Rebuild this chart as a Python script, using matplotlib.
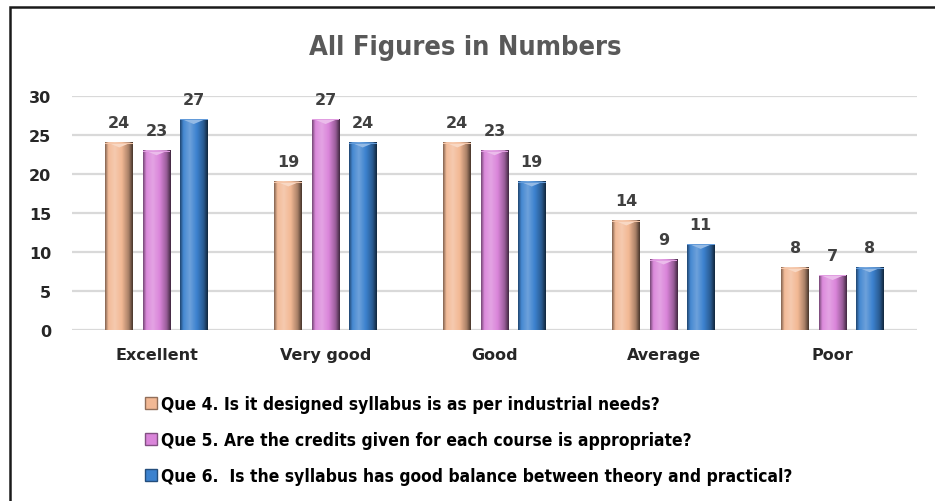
import numpy as np
import matplotlib.pyplot as plt
from matplotlib import colors
from matplotlib.patches import Rectangle, Polygon
from matplotlib.lines import Line2D

categories = ['Excellent', 'Very good', 'Good', 'Average', 'Poor']
que4 = [24, 19, 24, 14, 8]
que5 = [23, 27, 23, 9, 7]
que6 = [27, 24, 19, 11, 8]
series_labels = ['Que 4. Is it designed syllabus is as per industrial needs?',
                 'Que 5. Are the credits given for each course is appropriate?',
                 'Que 6.  Is the syllabus has good balance between theory and practical?']
series_colors = ['#F2B894', '#DA85DA', '#3C82CF']
yticks = [0, 5, 10, 15, 20, 25, 30]

plt.rcParams['font.family'] = ['DejaVu Sans']

fig = plt.figure(figsize=(9.35, 5.02), dpi=100)
ax = fig.add_axes([72 / 935, 1 - 331 / 502, (917 - 72) / 935, (331 - 97) / 502])

# outer frame (top and left edges visible, rest cropped)
fig.patches.append(Rectangle((10 / 935, -0.1), 1.2, 1 - 8 / 502 + 0.1,
                             transform=fig.transFigure, fill=False,
                             edgecolor='#1a1a1a', linewidth=1.8))


def shade(c, f):
    r, g, b = colors.to_rgb(c)
    if f < 1:
        return (r * f, g * f, b * f)
    f = f - 1
    return (r + (1 - r) * f, g + (1 - g) * f, b + (1 - b) * f)


def draw_bar(ax, x0, w, h, c):
    # horizontal gradient: dark edge, light left-centre, darker right edge
    stops = np.array([0.0, 0.12, 0.35, 0.6, 0.85, 1.0])
    facs = [0.55, 1.05, 1.25, 1.0, 0.7, 0.3]
    xs = np.linspace(0, 1, 64)
    rgb = np.array([shade(c, f) for f in facs])
    grad = np.stack([np.interp(xs, stops, rgb[:, k]) for k in range(3)], axis=-1)
    img = np.clip(grad[None, :, :], 0, 1)
    ax.imshow(img, extent=(x0, x0 + w, 0, h), aspect='auto', zorder=3,
              interpolation='bilinear')
    # top bevel
    bev = 0.6
    tri = Polygon([(x0 + w * 0.1, h), (x0 + w * 0.9, h), (x0 + w * 0.5, h - bev)],
                  closed=True, facecolor=shade(c, 1.45), edgecolor='none', zorder=4)
    ax.add_patch(tri)
    ax.add_patch(Rectangle((x0, h - 0.12), w, 0.12, facecolor=shade(c, 1.2),
                           edgecolor='none', zorder=4))


x = np.arange(len(categories))
step = 0.22
width = 0.165
for i, (vals, c) in enumerate(zip([que4, que5, que6], series_colors)):
    for xi, v in zip(x, vals):
        cx = xi + (i - 1) * step
        draw_bar(ax, cx - width / 2, width, v, c)
        ax.annotate(str(v), (cx, v), xytext=(0, 9), textcoords='offset points',
                    ha='center', va='bottom', fontsize=11.5, fontweight='bold',
                    color='#404040')

ax.set_xlim(-0.5, len(categories) - 0.5)
ax.set_ylim(0, 30)
ax.set_yticks(yticks)
ax.set_xticks(x)
ax.set_xticklabels(categories, fontsize=11.5, fontweight='bold', color='#262626')
for lbl in ax.get_yticklabels():
    lbl.set_fontsize(11.5)
    lbl.set_fontweight('bold')
    lbl.set_color('#262626')
ax.tick_params(axis='both', length=0)
ax.tick_params(axis='x', pad=12)
ax.tick_params(axis='y', pad=15)
ax.grid(axis='y', color='#d9d9d9', linewidth=1.6, zorder=0)
ax.set_axisbelow(True)
for s in ax.spines.values():
    s.set_visible(False)

fig.text(465 / 935, 1 - 48 / 502, 'All Figures in Numbers', ha='center', va='center',
         fontsize=19.5, color='#595959', fontweight='bold', fontstretch='condensed')

handles = [Line2D([], [], marker='s', linestyle='none', markersize=8,
                  markerfacecolor=c, markeredgecolor=shade(c, 0.6))
           for c in series_colors]
fig.legend(handles, series_labels, loc='upper left',
           bbox_to_anchor=(130 / 935, 1 - 380 / 502), frameon=False,
           handlelength=0.6, handletextpad=0.3, labelspacing=1.05,
           prop={'family': 'DejaVu Sans', 'stretch': 'condensed',
                 'weight': 'bold', 'size': 12.5})

fig.savefig('out.png', dpi=100)
